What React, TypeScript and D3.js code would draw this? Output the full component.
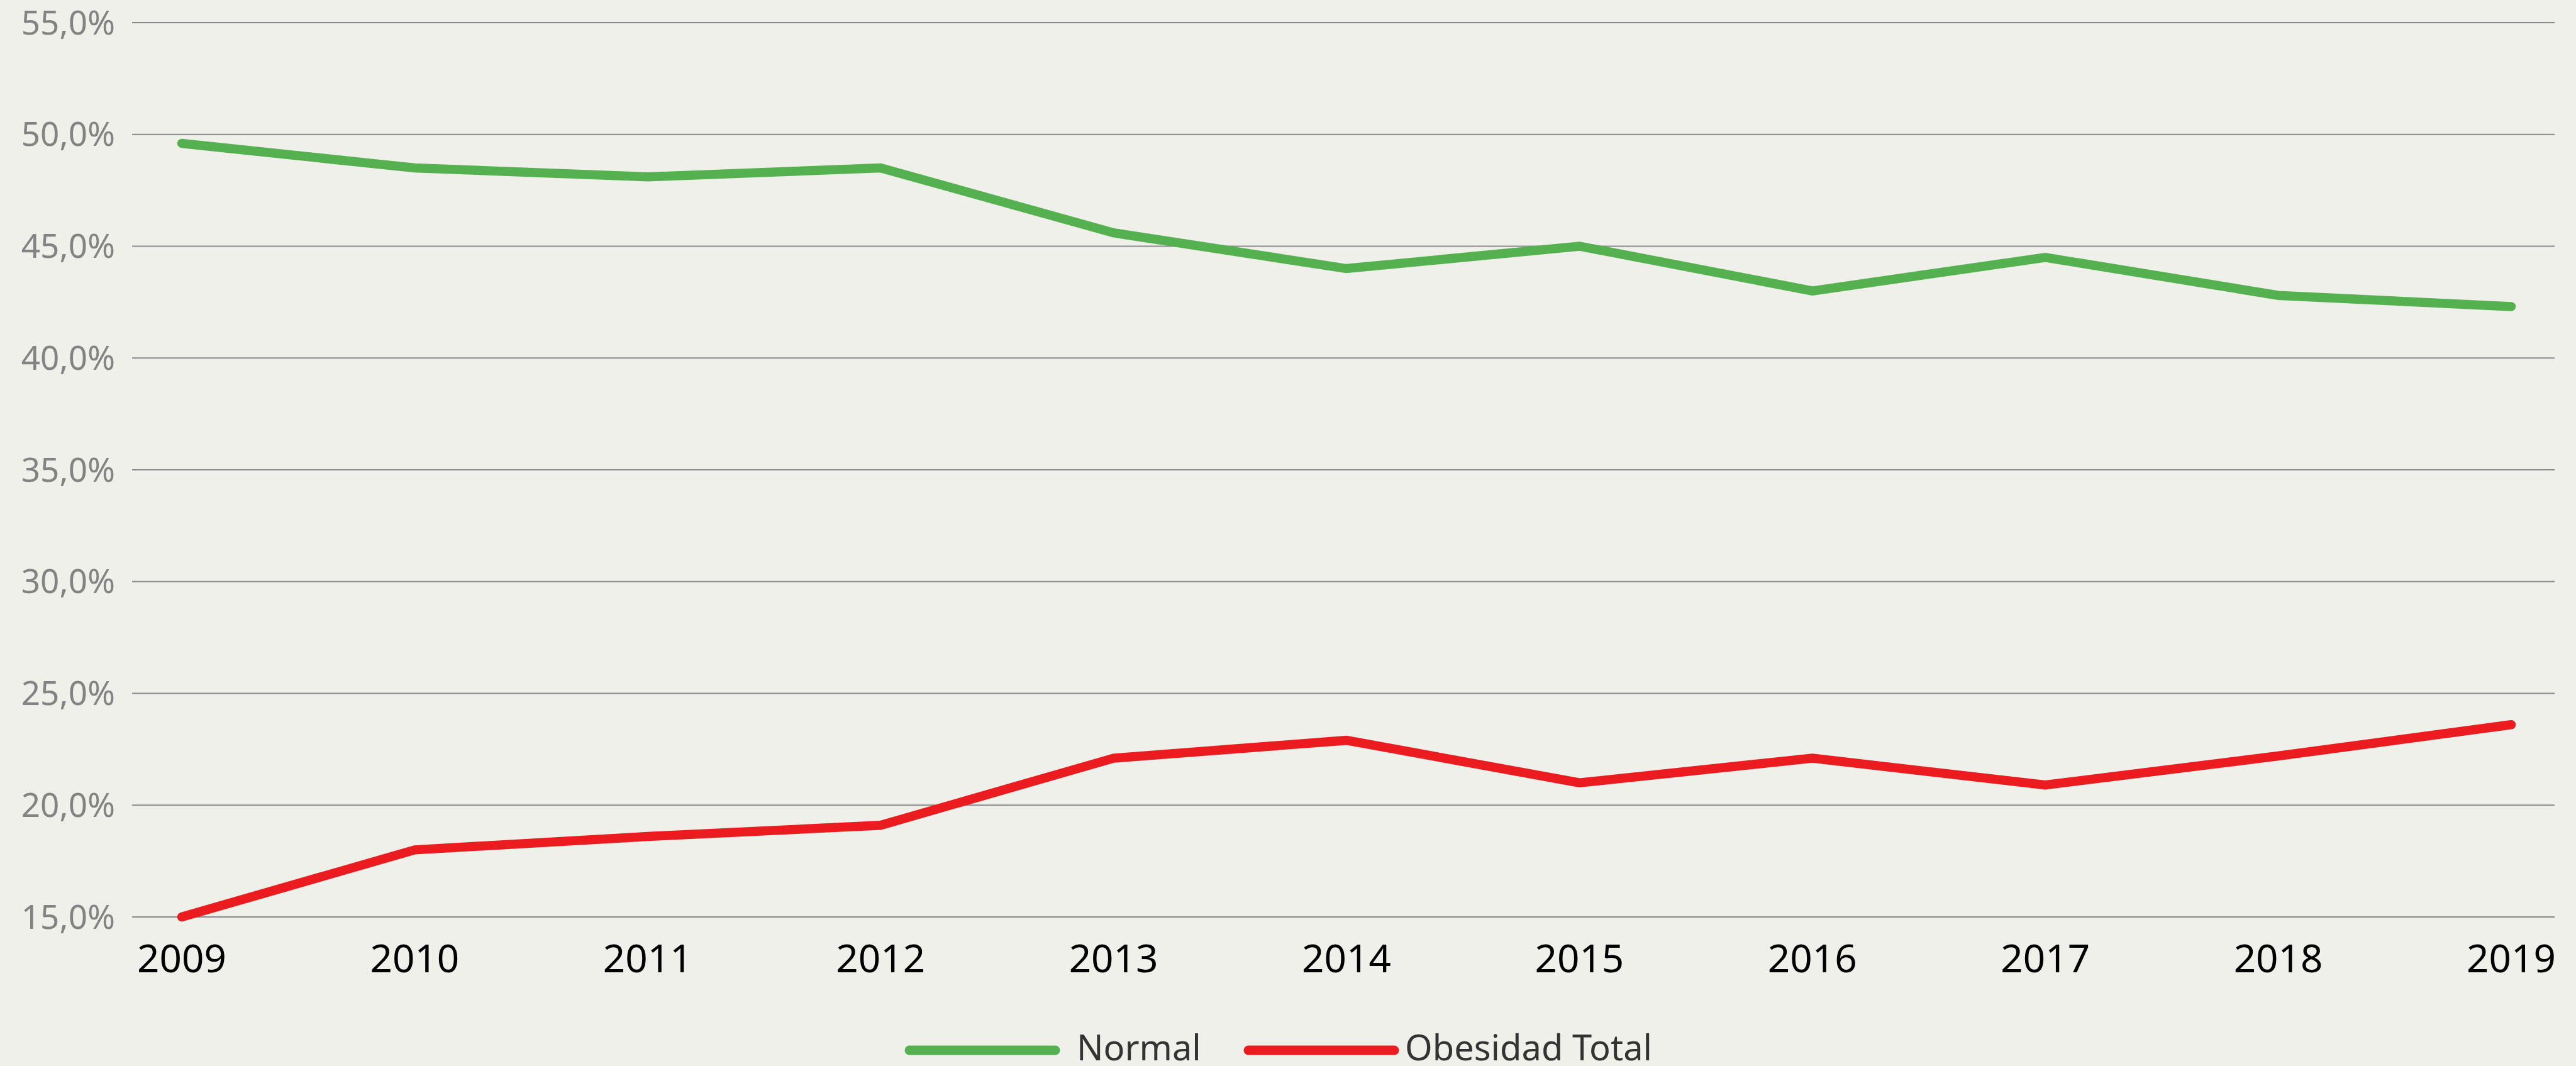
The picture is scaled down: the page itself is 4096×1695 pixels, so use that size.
import React from 'react';
import * as d3 from 'd3';

// chart data
const years = ['2009', '2010', '2011', '2012', '2013', '2014', '2015', '2016', '2017', '2018', '2019'];
const normal = [49.6, 48.5, 48.1, 48.5, 45.6, 44.0, 45.0, 43.0, 44.5, 42.8, 42.3];
const obesidad = [15.0, 18.0, 18.6, 19.1, 22.1, 22.9, 21.0, 22.1, 20.9, 22.2, 23.6];
const yTicks = [15, 20, 25, 30, 35, 40, 45, 50, 55];

const seriesNames = ['Normal', 'Obesidad Total'];
const seriesColors = ['#55B04F', '#EA1C1F'];

const W = 4096;
const H = 1695;
const FONT = '"Noto Sans", sans-serif';

const fmt = (v: number) => `${v.toFixed(1).replace('.', ',')}%`;

export default function App() {
  // plot frame (px), scaled from the reference
  const gridLeft = 210;
  const gridRight = 4062;

  const x = d3.scalePoint<string>().domain(years).range([289, 3993]);
  const y = d3.scaleLinear().domain([15, 55]).range([1458, 36]);

  const line = d3
    .line<number>()
    .x((_, i) => x(years[i]) as number)
    .y((d) => y(d));

  const series = [normal, obesidad];

  // legend layout
  const legend = [
    { x1: 1446, x2: 1678, tx: 1712 },
    { x1: 1985, x2: 2217, tx: 2234 },
  ];

  return (
    <svg
      width={W}
      height={H}
      style={{ position: 'absolute', left: 0, top: 0, display: 'block' }}
    >
      <rect width={W} height={H} fill="#EFF0EA" />

      {/* gridlines + y labels */}
      <g>
        {yTicks.map((t) => (
          <g key={t}>
            <line
              x1={gridLeft}
              x2={gridRight}
              y1={y(t)}
              y2={y(t)}
              stroke="#8A8A8A"
              strokeWidth={2.2}
            />
            <text
              x={183}
              y={y(t)}
              dy="0.35em"
              textAnchor="end"
              fontFamily={FONT}
              fontSize={53}
              fill="#838383"
            >
              {fmt(t)}
            </text>
          </g>
        ))}
      </g>

      {/* x labels */}
      <g>
        {years.map((yr) => (
          <text
            key={yr}
            x={x(yr)}
            y={1546}
            textAnchor="middle"
            fontFamily={FONT}
            fontSize={62}
            fill="#000"
          >
            {yr}
          </text>
        ))}
      </g>

      {/* lines */}
      {series.map((s, i) => (
        <path
          key={seriesNames[i]}
          d={line(s) ?? ''}
          fill="none"
          stroke={seriesColors[i]}
          strokeWidth={14.5}
          strokeLinecap="round"
          strokeLinejoin="miter"
        />
      ))}

      {/* legend */}
      {seriesNames.map((name, i) => (
        <g key={name}>
          <line
            x1={legend[i].x1}
            x2={legend[i].x2}
            y1={1670}
            y2={1670}
            stroke={seriesColors[i]}
            strokeWidth={15}
            strokeLinecap="round"
          />
          <text
            x={legend[i].tx}
            y={1686}
            fontFamily={FONT}
            fontSize={56}
            fill="#333333"
          >
            {name}
          </text>
        </g>
      ))}
    </svg>
  );
}
